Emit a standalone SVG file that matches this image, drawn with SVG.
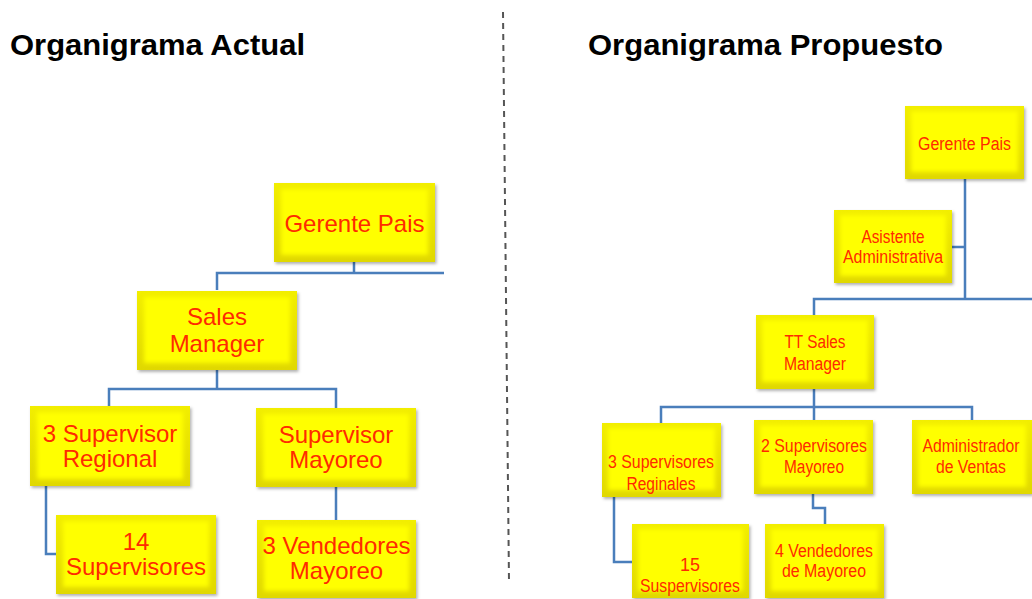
<svg xmlns="http://www.w3.org/2000/svg" width="1032" height="599" viewBox="0 0 1032 599">
<style>
.box{fill:url(#bev);filter:url(#sh)}
.inner{fill:#FFFF00;filter:url(#soft)}
.t{font-family:"Liberation Sans",Arial,sans-serif;fill:#FF2A00;text-anchor:middle}
.l{font-size:24px}
.r{font-size:18px}
.title{font-family:"Liberation Sans",Arial,sans-serif;font-weight:bold;font-size:29px;fill:#000}
.c{fill:none;stroke:#4A7EBB;stroke-width:2.5}
</style>
<defs>
<linearGradient id="bev" x1="0" y1="0" x2="0" y2="1">
<stop offset="0" stop-color="#F2EE00"/>
<stop offset="1" stop-color="#E0D800"/>
</linearGradient>
<filter id="sh" x="-10%" y="-10%" width="125%" height="130%">
<feDropShadow dx="1.5" dy="2" stdDeviation="1.5" flood-color="#000" flood-opacity="0.3"/>
</filter>
<filter id="soft" x="-10%" y="-10%" width="120%" height="120%">
<feGaussianBlur stdDeviation="2"/>
</filter>
</defs>
<rect width="1032" height="599" fill="#fff"/>
<text class="title" x="10" y="55" textLength="295" lengthAdjust="spacingAndGlyphs">Organigrama Actual</text>
<text class="title" x="588" y="55" textLength="355" lengthAdjust="spacingAndGlyphs">Organigrama Propuesto</text>
<line x1="503" y1="12" x2="509" y2="582" stroke="#555" stroke-width="2" stroke-dasharray="6 5"/>
<g id="connectors">
<path class="c" d="M354 262V274M217 290V273H444"/>
<path class="c" d="M217 370V390M109 407V389H336V408"/>
<path class="c" d="M46 486V554H56"/>
<path class="c" d="M336 487V520"/>
<path class="c" d="M965 179V299M814 315V299H1032M952 247H965"/>
<path class="c" d="M814 389V406M661 423V407H972V420M814 406V420"/>
<path class="c" d="M614 497V562H632"/>
<path class="c" d="M813 494V508H825V524"/>
</g>
<g id="a-gerente"><rect class="box" x="274" y="183" width="161" height="79"/><rect class="inner" x="281" y="189" width="147" height="66"/><text class="t l" x="354.5" y="232">Gerente Pais</text></g>
<g id="a-sales"><rect class="box" x="137" y="291" width="160" height="79"/><rect class="inner" x="144" y="297" width="146" height="66"/><text class="t l" x="217" y="325">Sales</text><text class="t l" x="217" y="352">Manager</text></g>
<g id="a-supreg"><rect class="box" x="30" y="406" width="160" height="80"/><rect class="inner" x="37" y="412" width="146" height="67"/><text class="t l" x="110" y="442">3 Supervisor</text><text class="t l" x="110" y="467">Regional</text></g>
<g id="a-supmay"><rect class="box" x="256" y="408" width="160" height="79"/><rect class="inner" x="263" y="414" width="146" height="66"/><text class="t l" x="336" y="443">Supervisor</text><text class="t l" x="336" y="468">Mayoreo</text></g>
<g id="a-14sup"><rect class="box" x="56" y="515" width="160" height="79"/><rect class="inner" x="63" y="521" width="146" height="66"/><text class="t l" x="136" y="550">14</text><text class="t l" x="136" y="575">Supervisores</text></g>
<g id="a-3vend"><rect class="box" x="257" y="520" width="159" height="78"/><rect class="inner" x="264" y="526" width="145" height="65"/><text class="t l" x="336.5" y="554">3 Vendedores</text><text class="t l" x="336.5" y="579">Mayoreo</text></g>
<g id="p-gerente"><rect class="box" x="905" y="106" width="119" height="73"/><rect class="inner" x="911" y="111" width="107" height="61"/><text class="t r" x="964.5" y="150" textLength="93" lengthAdjust="spacingAndGlyphs">Gerente Pais</text></g>
<g id="p-asist"><rect class="box" x="834" y="210" width="118" height="73"/><rect class="inner" x="840" y="215" width="106" height="61"/><text class="t r" x="893" y="243" textLength="63" lengthAdjust="spacingAndGlyphs">Asistente</text><text class="t r" x="893" y="263" textLength="100" lengthAdjust="spacingAndGlyphs">Administrativa</text></g>
<g id="p-ttsales"><rect class="box" x="756" y="315" width="118" height="74"/><rect class="inner" x="762" y="320" width="106" height="62"/><text class="t r" x="815" y="348" textLength="61" lengthAdjust="spacingAndGlyphs">TT Sales</text><text class="t r" x="815" y="370" textLength="62" lengthAdjust="spacingAndGlyphs">Manager</text></g>
<g id="p-supreg"><rect class="box" x="602" y="423" width="119" height="74"/><rect class="inner" x="608" y="428" width="107" height="62"/><text class="t r" x="661" y="468" textLength="106" lengthAdjust="spacingAndGlyphs">3 Supervisores</text><text class="t r" x="661" y="490" textLength="69" lengthAdjust="spacingAndGlyphs">Reginales</text></g>
<g id="p-supmay"><rect class="box" x="754" y="420" width="119" height="74"/><rect class="inner" x="760" y="425" width="107" height="62"/><text class="t r" x="814" y="452" textLength="106" lengthAdjust="spacingAndGlyphs">2 Supervisores</text><text class="t r" x="814" y="473" textLength="60" lengthAdjust="spacingAndGlyphs">Mayoreo</text></g>
<g id="p-admin"><rect class="box" x="912" y="420" width="120" height="74"/><rect class="inner" x="918" y="425" width="108" height="62"/><text class="t r" x="971" y="452" textLength="97" lengthAdjust="spacingAndGlyphs">Administrador</text><text class="t r" x="971" y="473" textLength="70" lengthAdjust="spacingAndGlyphs">de Ventas</text></g>
<g id="p-15sup"><rect class="box" x="632" y="524" width="117" height="74"/><rect class="inner" x="638" y="529" width="105" height="62"/><text class="t r" x="690" y="571" textLength="20" lengthAdjust="spacingAndGlyphs">15</text><text class="t r" x="690" y="592" textLength="100" lengthAdjust="spacingAndGlyphs">Suspervisores</text></g>
<g id="p-4vend"><rect class="box" x="765" y="524" width="119" height="74"/><rect class="inner" x="771" y="529" width="107" height="62"/><text class="t r" x="824" y="557" textLength="98" lengthAdjust="spacingAndGlyphs">4 Vendedores</text><text class="t r" x="824" y="577" textLength="84" lengthAdjust="spacingAndGlyphs">de Mayoreo</text></g>
</svg>
